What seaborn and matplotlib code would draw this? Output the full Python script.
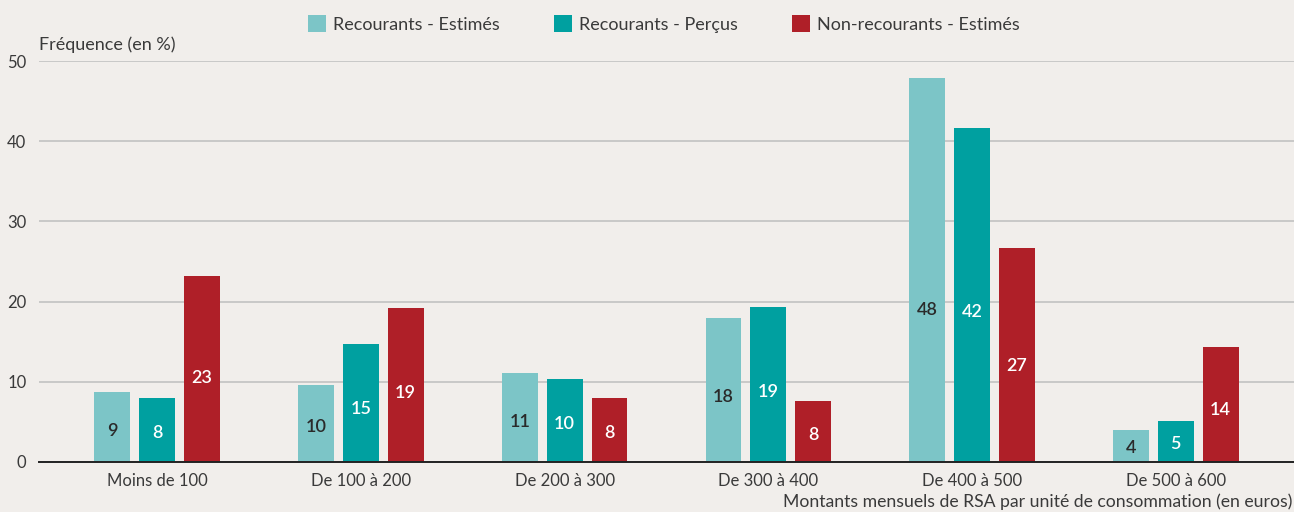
import pandas as pd
import numpy as np
import matplotlib
matplotlib.use("Agg")
import matplotlib.pyplot as plt
import seaborn as sns

# data
tranches = ["Moins de 100", "De 100 à 200", "De 200 à 300", "De 300 à 400", "De 400 à 500", "De 500 à 600"]
series = ["Recourants - Estimés", "Recourants - Perçus", "Non-recourants - Estimés"]
rec_estimes = [8.7, 9.6, 11.1, 18.0, 47.9, 4.0]
rec_percus = [8.0, 14.7, 10.4, 19.3, 41.6, 5.1]
nonrec_estimes = [23.2, 19.2, 8.0, 7.6, 26.7, 14.3]

colors = ["#7cc5c7", "#00a0a0", "#af1f28"]
label_colors = ["#2a2a2a", "white", "white"]
bg = "#f1eeeb"

df = pd.DataFrame({"Tranche": tranches * 3,
                   "Serie": [series[0]] * 6 + [series[1]] * 6 + [series[2]] * 6,
                   "Freq": rec_estimes + rec_percus + nonrec_estimes})

sns.set_theme(style="white")
plt.rcParams["font.family"] = ["Lato", "DejaVu Sans"]

fig = plt.figure(figsize=(12.94, 5.12), dpi=100, facecolor=bg)
ax = fig.add_axes([39 / 1294, 1 - 462 / 512, 1 - 39 / 1294, (462 - 61) / 512])
ax.set_facecolor(bg)

sns.barplot(df, x="Tranche", y="Freq", hue="Serie", palette=colors, width=0.66, gap=0.2,
            saturation=1, linewidth=0, ax=ax, legend=True)

# value labels inside the bars
for cont, lc in zip(ax.containers, label_colors):
    for p in cont:
        h = p.get_height()
        ax.text(p.get_x() + p.get_width() / 2, min(h * 0.45, 19), f"{round(h)}", ha="center", va="center",
                color=lc, fontsize=13, fontweight="semibold")

ax.set_ylim(0, 50)
ax.set_xlim(-0.58, 5.58)
ax.set_yticks([0, 10, 20, 30, 40, 50])
ax.yaxis.grid(True, color="#c8c8c8", linewidth=1.4)
ax.set_axisbelow(True)
for s in ["top", "right", "left"]:
    ax.spines[s].set_visible(False)
ax.spines["bottom"].set_color("#222222")
ax.spines["bottom"].set_linewidth(1.4)
ax.tick_params(axis="both", length=0, labelsize=12, colors="#3a3a3a")
ax.tick_params(axis="x", pad=8)
ax.tick_params(axis="y", pad=9)
ax.set_xlabel("")
ax.set_ylabel("")

handles, labels = ax.get_legend_handles_labels()
ax.legend_.remove()
fig.legend(handles, labels, loc="center", bbox_to_anchor=(0.513, 1 - 24 / 512), ncol=3, frameon=False,
           fontsize=13, handlelength=1.0, handleheight=1.0, handletextpad=0.4, columnspacing=3.0,
           labelcolor="#3a3a3a")

fig.text(39 / 1294, 1 - 45 / 512, "Fréquence (en %)", ha="left", va="center", fontsize=13, color="#3a3a3a")
fig.text(0.999, 1 - 502 / 512, "Montants mensuels de RSA par unité de consommation (en euros)",
         ha="right", va="center", fontsize=12.7, color="#3a3a3a")

fig.savefig("out.png", dpi=100, facecolor=bg)
